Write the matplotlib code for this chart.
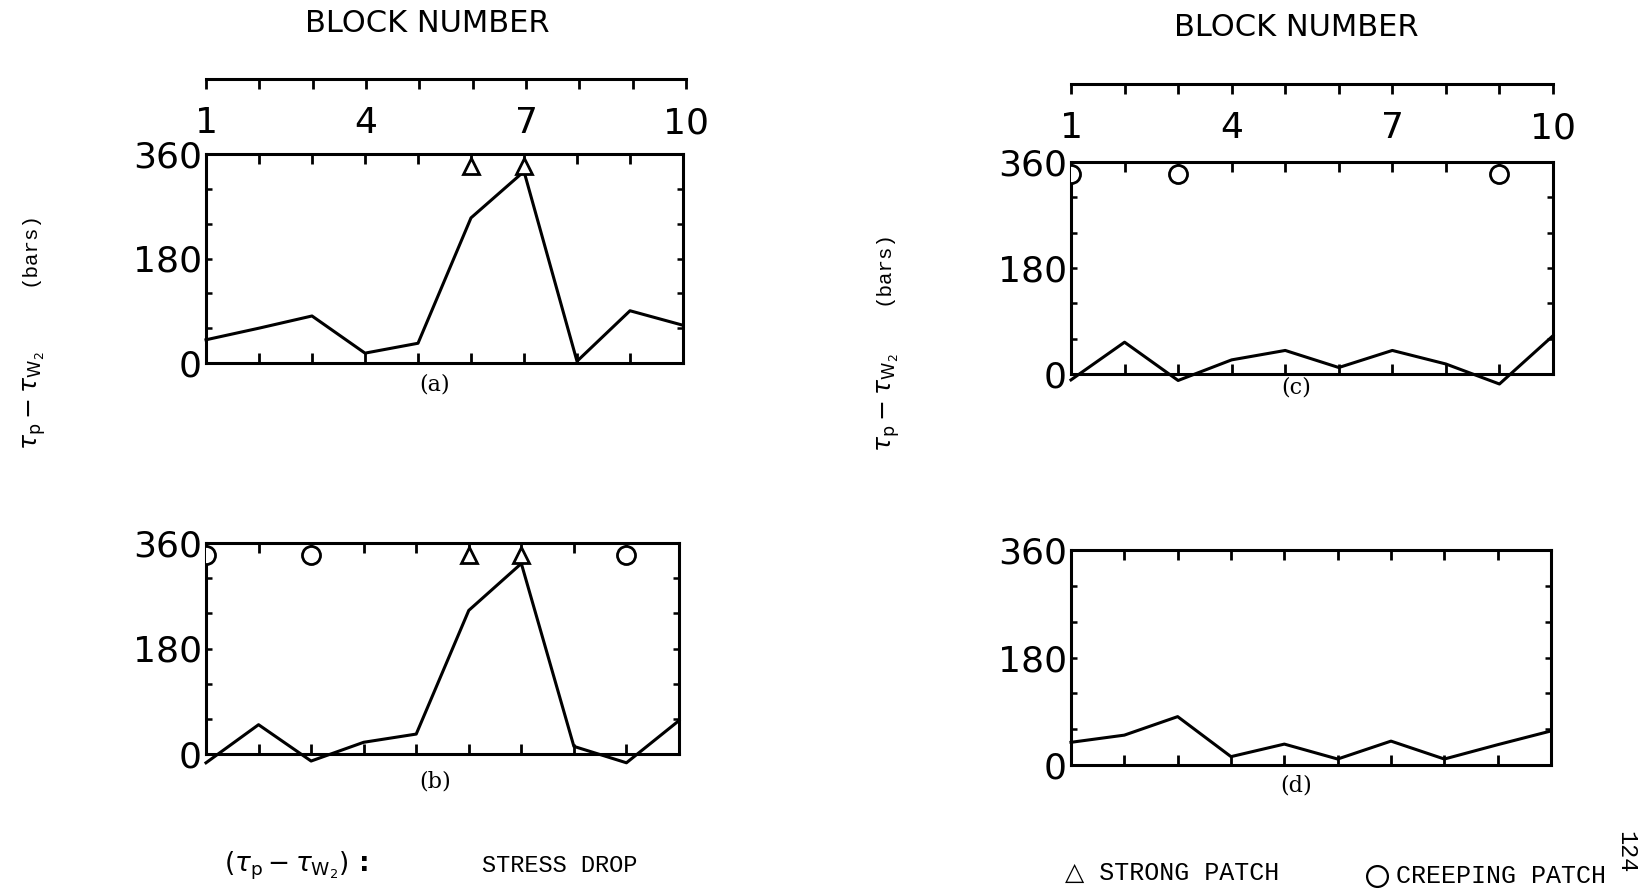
import matplotlib
matplotlib.use("Agg")
import matplotlib.pyplot as plt
from matplotlib.lines import Line2D

W, H = 1643, 894

blocks = [1, 2, 3, 4, 5, 6, 7, 8, 9, 10]
stress_a = [40, 60, 81, 17, 34, 250, 330, 3, 90, 65]
stress_b = [-15, 50, -12, 20, 34, 245, 325, 13, -15, 57]
stress_c = [-10, 54, -11, 24, 40, 11, 40, 17, -17, 65]
stress_d = [38, 50, 81, 14, 35, 10, 40, 10, 34, 57]

strong_a = [6, 7]
creep_a = []
strong_b = [6, 7]
creep_b = [1, 3, 9]
strong_c = []
creep_c = [1, 3, 9]
strong_d = []
creep_d = []

x_tick_labels = ["1", "", "", "4", "", "", "7", "", "", "10"]
y_ticks_major = [0, 180, 360]
y_ticks_minor = [60, 120, 240, 300]

fig = plt.figure(figsize=(W / 100, H / 100), dpi=100)
fig.patch.set_facecolor("white")

def rect(left, top, right, bottom):
    return [left / W, 1 - bottom / H, (right - left) / W, (bottom - top) / H]

TICKFONT = dict(family="DejaVu Sans", size=26)
LW = 2.2

def panel(r, vals, strong, creep, letter, lpos):
    ax = fig.add_axes(rect(*r))
    ax.plot(blocks, vals, color="black", lw=2.2, clip_on=False, zorder=3)
    if strong:
        ax.plot(strong, [340] * len(strong), linestyle="none", marker="^",
                ms=11, mfc="white", mec="black", mew=2, clip_on=True, zorder=4)
    if creep:
        ax.plot(creep, [340] * len(creep), linestyle="none", marker="o",
                ms=13, mfc="white", mec="black", mew=2, clip_on=True, zorder=4)
    ax.set_xlim(1, 10)
    ax.set_ylim(0, 360)
    ax.set_xticks(blocks)
    ax.set_xticklabels([])
    ax.set_yticks(y_ticks_major)
    ax.set_yticks(y_ticks_minor, minor=True)
    ax.set_yticklabels([str(v) for v in y_ticks_major], fontdict=TICKFONT)
    ax.tick_params(axis="x", which="both", direction="in", top=True, bottom=True,
                   length=7.5, width=2)
    ax.tick_params(axis="y", which="both", direction="in", left=True, right=True,
                   length=4.5, width=1.8, pad=3)
    for s in ax.spines.values():
        s.set_linewidth(LW)
    ax.text(lpos[0], lpos[1], letter, transform=ax.transAxes, ha="center",
            va="center", fontsize=16, family="DejaVu Serif")
    return ax

def block_axis(left, right, y_line):
    ax = fig.add_axes([left / W, 1 - y_line / H, (right - left) / W, 0.0001])
    ax.set_xlim(1, 10)
    ax.set_ylim(0, 1)
    for k in ("top", "left", "right"):
        ax.spines[k].set_visible(False)
    ax.spines["bottom"].set_linewidth(LW)
    ax.set_yticks([])
    ax.set_xticks(blocks)
    ax.set_xticklabels(x_tick_labels, fontdict=TICKFONT)
    ax.tick_params(axis="x", direction="out", length=7.5, width=2, pad=12)
    ax.patch.set_visible(False)
    return ax

panel((206, 154, 683, 363), stress_a, strong_a, creep_a, "(a)", (0.48, -0.105))
panel((206, 543, 679, 754), stress_b, strong_b, creep_b, "(b)", (0.484, -0.128))
panel((1071, 162, 1553, 374), stress_c, strong_c, creep_c, "(c)", (0.467, -0.066))
panel((1071, 550, 1551, 765), stress_d, strong_d, creep_d, "(d)", (0.47, -0.096))

block_axis(206, 686, 79)
block_axis(1071, 1553, 84)

fig.text(427 / W, 1 - 23 / H, "BLOCK NUMBER", ha="center", va="center",
         fontsize=22, family="DejaVu Sans")
fig.text(1296 / W, 1 - 28 / H, "BLOCK NUMBER", ha="center", va="center",
         fontsize=22, family="DejaVu Sans")

# y-axis labels
for xb, yb, xt, yt in [(29, 248, 35, 401), (883, 267, 889, 403)]:
    fig.text(xb / W, 1 - yb / H, "(bars)", rotation=90, ha="center", va="center",
             fontsize=15, family="Liberation Mono")
    fig.text(xt / W, 1 - yt / H, r"$\tau_{\rm p} - \tau_{\rm W_2}$", rotation=90,
             ha="center", va="center", fontsize=18)

# bottom annotations
fig.text(296 / W, 1 - 866 / H, r"$(\tau_{\rm p} - \tau_{\rm W_2})$ :", ha="center",
         va="center", fontsize=19, weight="bold")
fig.text(560 / W, 1 - 865 / H, "STRESS DROP", ha="center", va="center",
         fontsize=17, family="Liberation Mono")
fig.text(1172 / W, 1 - 873 / H, "\u25b3 STRONG PATCH", ha="center", va="center",
         fontsize=18, family=["Liberation Mono", "DejaVu Sans"])
fig.add_artist(Line2D([1377 / W], [1 - 876 / H], marker="o", ms=15, mfc="white",
                      mec="black", mew=1.6, linestyle="none",
                      transform=fig.transFigure))
fig.text(1501 / W, 1 - 876 / H, "CREEPING PATCH", ha="center", va="center",
         fontsize=18, family="Liberation Mono")
fig.text(1626 / W, 1 - 852 / H, "124", rotation=-90, ha="center", va="center",
         fontsize=17, family="Liberation Mono")

fig.savefig("out.png", dpi=100, facecolor="white")
